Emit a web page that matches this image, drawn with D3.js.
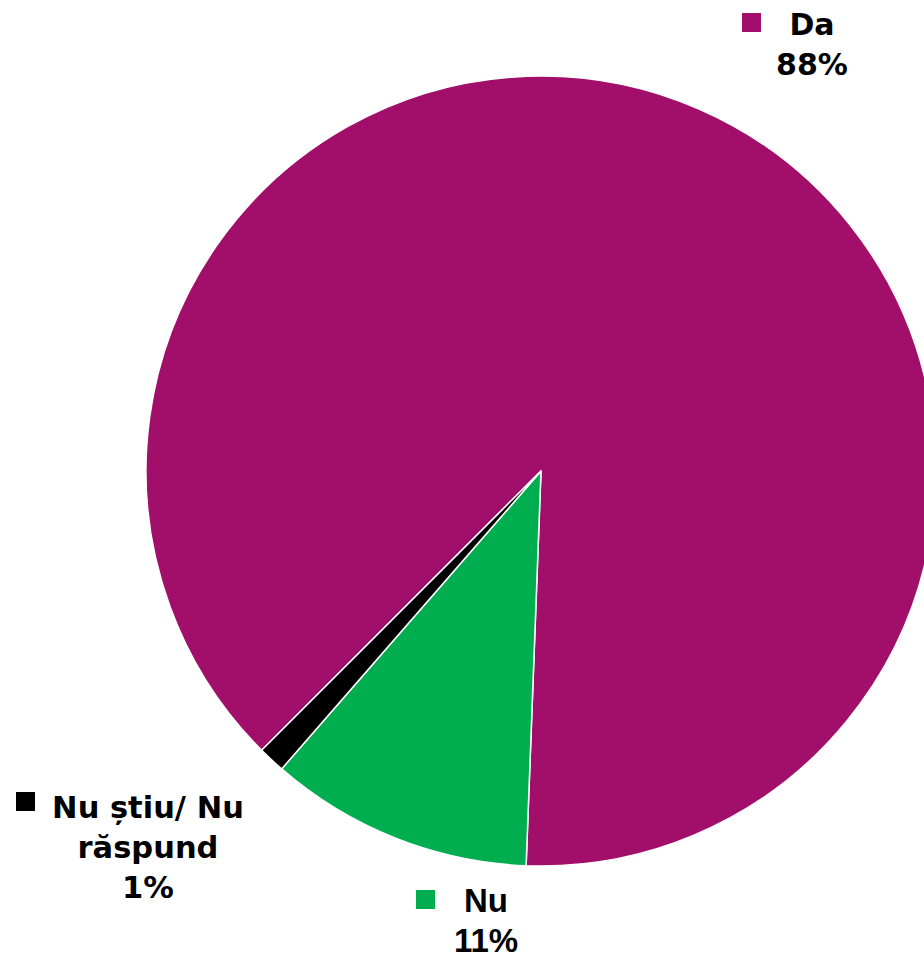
<!DOCTYPE html>
<html>
<head>
<meta charset="utf-8">
<script src="https://cdn.jsdelivr.net/npm/d3@7"></script>
<style>
  html, body { margin: 0; padding: 0; background: #fff; overflow: hidden; }
  svg { display: block; }
</style>
</head>
<body>
<script>
"use strict";

// data
var categories = ["Da", "Nu", "Nu știu/ Nu răspund"];
var values = [88.1, 10.8, 1.1];
var percentLabels = ["88%", "11%", "1%"];
var colors = ["#A20F6B", "#00AE50", "#000000"];

// dimensions
var width = 924,
    height = 960,
    cx = 541,
    cy = 471,
    radius = 395;

var svg = d3.select("body").append("svg")
    .attr("width", width)
    .attr("height", height);

var pie = d3.pie()
    .sort(null)
    .value(function(d) { return d; })
    .startAngle(225 * Math.PI / 180)
    .endAngle(225 * Math.PI / 180 + 2 * Math.PI);

var arc = d3.arc().innerRadius(0).outerRadius(radius);

var g = svg.append("g")
    .attr("transform", "translate(" + cx + "," + cy + ")");

g.selectAll("path")
    .data(pie(values))
  .enter().append("path")
    .attr("d", arc)
    .attr("fill", function(d, i) { return colors[i]; })
    .attr("stroke", "#fff")
    .attr("stroke-width", 1.5)
    .attr("stroke-linejoin", "round");

// label layout: lines of text (centered), key square before first line
var labelLayout = [
  {x: 812, y: 35, lines: ["Da", percentLabels[0]], keyX: 742, keyY: 13, font: "DejaVu Sans", size: 30},
  {x: 486, y: 912, lines: ["Nu", percentLabels[1]], keyX: 416, keyY: 890, font: "Liberation Sans", size: 33},
  {x: 148, y: 818, lines: ["Nu știu/ Nu", "răspund", percentLabels[2]], keyX: 16, keyY: 792, font: "DejaVu Sans", size: 30.5}
];

labelLayout.forEach(function(l, i) {
  var t = svg.append("text")
      .attr("text-anchor", "middle")
      .attr("font-family", l.font)
      .attr("font-weight", "bold")
      .attr("font-size", l.size)
      .attr("fill", "#000");
  l.lines.forEach(function(line, j) {
    t.append("tspan")
      .attr("x", l.x)
      .attr("y", l.y + j * 40)
      .text(line);
  });
  svg.append("rect")
      .attr("x", l.keyX)
      .attr("y", l.keyY)
      .attr("width", 19)
      .attr("height", 19)
      .attr("fill", colors[i]);
});
</script>
</body>
</html>
